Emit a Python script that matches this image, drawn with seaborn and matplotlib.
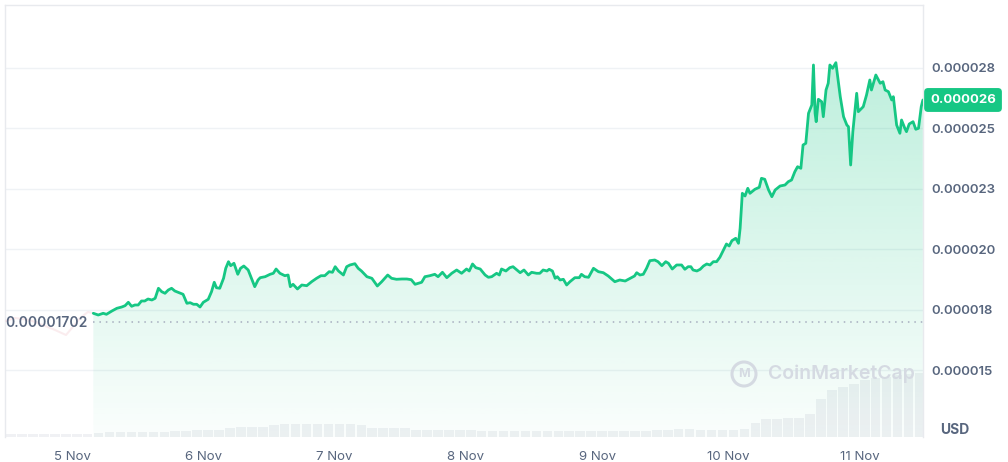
import numpy as np
import matplotlib
matplotlib.use("Agg")
import matplotlib.pyplot as plt
import matplotlib.transforms as mtransforms
from matplotlib.colors import to_rgb
from matplotlib.patches import Circle
import seaborn as sns

# ---------------- data ----------------
# hours since 5 Nov 00:00, price in units of 1e-5 USD
hours_a = [3.9, 4.8, 5.7, 6.3, 7.3, 8.2, 9.1, 9.7, 10.3, 10.9, 11.5, 12.1, 12.7, 13.3, 13.9, 14.6,
           15.2, 15.8, 16.4, 17.0, 17.6, 18.2, 18.8, 19.4, 20.3, 21.0, 21.6, 22.2, 22.8, 23.4, 24.0,
           24.9, 25.5, 26.0, 26.4, 27.0, 27.7, 28.1, 28.6, 29.0, 29.6, 30.3, 30.8, 31.4, 32.2, 32.8,
           33.4, 34.0]
price_a = [1.7364, 1.7293, 1.7364, 1.7322, 1.7459, 1.7570, 1.7624, 1.7678, 1.7818, 1.7653, 1.7707,
           1.7707, 1.7872, 1.7872, 1.7955, 1.7913, 1.7983, 1.8397, 1.8256, 1.8190, 1.8326, 1.8397,
           1.8285, 1.8231, 1.8149, 1.7777, 1.7802, 1.7736, 1.7736, 1.7624, 1.7818, 1.7942, 1.8256,
           1.8645, 1.8421, 1.8397, 1.8810, 1.9223, 1.9496, 1.9331, 1.9430, 1.8975, 1.9223, 1.9318,
           1.9153, 1.8810, 1.8463, 1.8740]
hours_b = [34.4, 35.3, 36.2, 36.8, 37.3, 38.0, 38.9, 39.5, 39.9, 40.4, 41.2, 42.0, 42.9, 43.8, 44.7,
           45.5, 46.2, 47.0, 47.6, 48.1, 48.7, 49.6, 50.2, 50.8, 51.7, 52.3, 52.9, 53.9, 54.8, 55.8,
           56.6, 57.7, 58.4, 59.3, 60.3, 61.2, 62.0, 62.7, 63.3, 63.9]
price_b = [1.8835, 1.8876, 1.8975, 1.9017, 1.9194, 1.9017, 1.8917, 1.8946, 1.8463, 1.8562, 1.8368,
           1.8533, 1.8504, 1.8669, 1.8810, 1.8917, 1.8917, 1.9083, 1.9058, 1.9289, 1.9112, 1.8946,
           1.9289, 1.9360, 1.9413, 1.9223, 1.9112, 1.8876, 1.8810, 1.8492, 1.8669, 1.8946, 1.8810,
           1.8769, 1.8781, 1.8781, 1.8752, 1.8562, 1.8603, 1.8645]
hours_c = [64.5, 65.4, 66.3, 66.9, 67.7, 68.5, 69.4, 70.3, 71.2, 72.1, 72.6, 73.2, 73.8, 74.6, 75.5,
           76.1, 76.7, 77.6, 78.1, 78.5, 79.3, 80.0, 80.6, 81.3, 81.9, 82.6, 83.4, 84.0, 84.9, 85.5,
           86.1, 86.8, 87.2, 87.8, 88.3, 88.7, 89.2, 89.8, 90.4, 91.0, 91.9, 92.7, 93.1, 93.7]
price_c = [1.8876, 1.8917, 1.8975, 1.8876, 1.9058, 1.8835, 1.9017, 1.9153, 1.9017, 1.9194, 1.9112,
           1.9401, 1.9248, 1.9194, 1.8946, 1.8851, 1.8876, 1.9017, 1.8946, 1.9194, 1.9112, 1.9248,
           1.9289, 1.9153, 1.9041, 1.9153, 1.8946, 1.9058, 1.9017, 1.9017, 1.9153, 1.9112, 1.9182,
           1.9112, 1.8810, 1.8876, 1.8740, 1.8769, 1.8533, 1.8669, 1.8835, 1.8835, 1.8975, 1.8876]
hours_d = [94.4, 95.3, 96.2, 97.1, 98.0, 99.2, 100.1, 101.1, 102.0, 102.8,
           103.2, 103.8, 104.4, 105.0, 105.6, 106.5, 107.1, 107.8, 108.5, 109.0,
           109.7, 110.5, 111.4, 112.0, 112.6, 113.1, 113.5, 114.2, 114.8, 115.4,
           116.0, 116.6, 117.2, 117.8, 118.4, 119.0, 119.6, 120.1, 120.6, 121.3,
           121.8, 122.1, 122.5, 123.0, 123.5, 123.9, 124.8, 125.6, 126.0, 126.6,
           127.3, 127.9, 128.5, 129.4, 130.3, 130.9, 131.5, 132.1, 132.6, 133.2,
           133.6, 134.1, 134.6, 135.2, 135.5, 135.8, 136.0, 136.4, 137.0, 137.3,
           137.8, 138.2, 138.5, 139.0, 139.6, 140.4, 141.0, 141.6, 141.9, 142.3,
           142.7, 143.4, 143.7, 144.6, 145.2, 145.8, 146.1, 146.9, 147.7, 148.2,
           148.6, 149.2, 149.8, 150.1, 150.7, 151.3, 151.6, 152.2, 152.5, 153.0,
           153.7, 154.2, 154.7, 155.2, 155.5]
price_d = [1.8851, 1.9223, 1.9083, 1.9041, 1.8905, 1.8669, 1.8740, 1.8698, 1.8810, 1.8905,
           1.9041, 1.8946, 1.8975, 1.9223, 1.9537, 1.9566, 1.9496, 1.9331, 1.9496, 1.9430,
           1.9194, 1.9360, 1.9360, 1.9182, 1.9289, 1.9289, 1.9153, 1.9112, 1.9182, 1.9318,
           1.9401, 1.9360, 1.9496, 1.9496, 1.9678, 1.9950, 2.0227, 2.0145, 2.0364, 2.0463,
           2.0256, 2.0876, 2.2322, 2.2211, 2.2529, 2.2322, 2.2488, 2.2570, 2.2942, 2.2901,
           2.2459, 2.2182, 2.2459, 2.2624, 2.2665, 2.2802, 2.2872, 2.3215, 2.3421, 2.3355,
           2.4318, 2.4388, 2.5628, 2.5971, 2.7624, 2.5628, 2.5281, 2.6207, 2.6107, 2.5488,
           2.6591, 2.6868, 2.7624, 2.7488, 2.7719, 2.6314, 2.5488, 2.5145, 2.5074, 2.3492,
           2.4868, 2.6455, 2.5694, 2.5901, 2.6384, 2.7004, 2.6591, 2.7211, 2.6868, 2.6934,
           2.6591, 2.6521, 2.6178, 2.6314, 2.5145, 2.4802, 2.5351, 2.5008, 2.4868, 2.5186,
           2.5281, 2.4967, 2.5008, 2.5901, 2.6178]

# faint part before the selected range
pre_hours = [-12.2, -10.4, -7.7, -4.9, -3.1, -1.1, 0.0, 1.5, 2.9, 3.9]
pre_price = [1.7045, 1.7169, 1.7086, 1.6839, 1.6674, 1.6467, 1.6756, 1.7169, 1.7417, 1.7364]

start_price = 0.00001702

# volume (2-hour bars, relative units)
vol_hours = list(range(-12, 156, 2))
vol_values = [3.0, 3.0, 3.0, 3.0, 3.0, 3.0, 3.0, 3.1, 3.3,
              4.5, 4.5, 4.6, 4.6, 4.7, 5.0,
              6.0, 6.0, 6.1, 6.2, 6.4,
              8.5, 9.0, 9.2, 9.5,
              11.5, 12.0, 12.0, 12.2, 12.2, 12.2, 12.0, 12.0, 11.5,
              8.5, 8.5, 8.3, 8.0,
              6.5, 6.5, 6.5, 6.4, 6.4, 6.3, 6.0,
              5.5, 5.5, 5.4, 5.4, 5.4, 5.3, 5.3, 5.3, 5.4, 5.5, 5.5, 5.5, 5.6, 5.6, 5.8,
              7.0, 7.0, 7.2, 7.2, 7.0, 6.8,
              6.5, 6.6, 7.5,
              13.0, 16.5, 17.0, 17.5, 17.5, 22.0,
              36.0, 44.0, 47.0, 50.0, 53.0, 55.0, 56.0, 58.0, 59.0, 60.0]

day_ticks = [0, 24, 48, 72, 96, 120, 144]
day_labels = ["5 Nov", "6 Nov", "7 Nov", "8 Nov", "9 Nov", "10 Nov", "11 Nov"]
ytick_vals = [0.000015, 0.0000175, 0.00002, 0.0000225, 0.000025, 0.0000275]
ytick_labels = ["0.000015", "0.000018", "0.000020", "0.000023", "0.000025", "0.000028"]

hours = np.array(hours_a + hours_b + hours_c + hours_d)
prices = np.array(price_a + price_b + price_c + price_d) * 1e-5
assert len(hours) == len(prices)
assert len(vol_hours) == len(vol_values)

# ---------------- style ----------------
sns.set_theme(style="white")
plt.rcParams['font.family'] = ['Inter', 'DejaVu Sans']

GREEN = '#16c784'
GREY = '#58667e'
GRIDC = '#eff2f5'

XMIN, XMAX = -12.24, 155.52
YMIN, YMAX = 1.2252e-5, 3.0103e-5

fig = plt.figure(figsize=(10.08, 4.62), dpi=100)
fig.patch.set_facecolor('white')
ax = fig.add_axes([5 / 1008, 25 / 462, 918 / 1008, 432 / 462])

# volume on a twin axis, drawn underneath
axv = ax.twinx()
axv.set_zorder(ax.get_zorder() - 1)
ax.patch.set_visible(False)
axv.bar(vol_hours, vol_values, width=1.75, align='edge', color='#f0f1f4', linewidth=0)
axv.set_ylim(0, 405)
axv.set_yticks([])
for s in axv.spines.values():
    s.set_visible(False)

# faint pre-range line
sns.lineplot(x=pre_hours, y=np.array(pre_price) * 1e-5, ax=ax, color='#f3c9d0', lw=1.5,
             alpha=0.35, zorder=3)

# gradient fill under the line
poly = ax.fill_between(hours, prices, YMIN, facecolor='none', edgecolor='none')
path = poly.get_paths()[0]
n = 256
rgba = np.zeros((n, 1, 4))
rgba[:, 0, :3] = to_rgb(GREEN)
rgba[:, 0, 3] = np.linspace(0.32, 0.02, n)
im = ax.imshow(rgba, extent=[XMIN, XMAX, YMIN, YMAX], origin='upper', aspect='auto', zorder=2)
im.set_clip_path(path, transform=ax.transData)

# main price line
sns.lineplot(x=hours, y=prices, ax=ax, color=GREEN, lw=2.0, zorder=4)

# dotted start-price line
ax.hlines(start_price, hours[0], XMAX, colors='#a6adbf', linestyles=(0, (1, 3.2)), lw=1.1, zorder=3)
ax.annotate(f"{start_price:.8f}", xy=(hours[0], start_price), xytext=(-4, -1),
            textcoords='offset points', ha='right', va='center', fontsize=10,
            fontweight=600, color=GREY, zorder=5)

ax.set_xlim(XMIN, XMAX)
ax.set_ylim(YMIN, YMAX)
axv.set_xlim(XMIN, XMAX)

ax.set_xticks(day_ticks)
ax.set_xticklabels(day_labels)
ax.yaxis.tick_right()
ax.set_yticks(ytick_vals)
ax.set_yticklabels(ytick_labels)
ax.tick_params(axis='x', length=0, pad=10, labelsize=9.5, labelcolor=GREY)
ax.tick_params(axis='y', length=0, pad=6, labelsize=9.5, labelcolor=GREY)
for lbl in ax.get_yticklabels():
    lbl.set_fontweight(600)
ax.set_xlabel('')
ax.set_ylabel('')
ax.grid(axis='y', color=GRIDC, lw=1)
ax.grid(axis='x', visible=False)
for side in ['top', 'left', 'right']:
    ax.spines[side].set_color('#e8eaee')
    ax.spines[side].set_linewidth(1)
ax.spines['bottom'].set_visible(False)

# current price badge
trans = mtransforms.blended_transform_factory(ax.transAxes, ax.transData)
ax.text(1.0436, prices[-1], f"{prices[-1]:.6f}", transform=trans, ha='center', va='center',
        fontsize=9.5, fontweight='bold', color='white', zorder=6, clip_on=False,
        bbox=dict(boxstyle='round,pad=0.45,rounding_size=0.3', fc=GREEN, ec='none'))

# USD label
fig.text(955 / 1008, 1 - 430 / 462, "USD", ha='center', va='center', fontsize=10,
         fontweight='bold', color=GREY)

# watermark
fig.text(768 / 1008, 1 - 374 / 462, "CoinMarketCap", ha='left', va='center', fontsize=14,
         fontweight=600, color='#d5dae2')
fig.add_artist(Circle((7.44, 0.88), 0.12, transform=fig.dpi_scale_trans, fill=False,
                      ec='#d5dae2', lw=2.2))
fig.text(744 / 1008, 1 - 374 / 462, "M", ha='center', va='center', fontsize=9,
         fontweight='bold', color='#d5dae2')

fig.savefig("out.png", dpi=100, facecolor='white')
